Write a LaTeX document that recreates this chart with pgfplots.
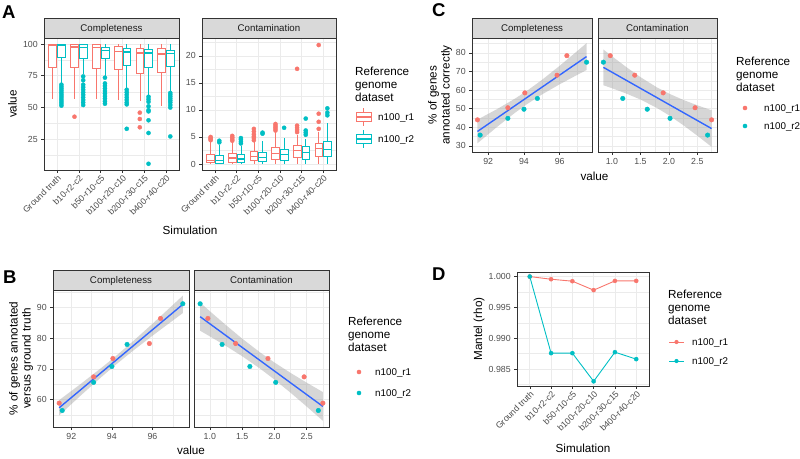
\documentclass[border=0pt]{standalone}
\usepackage{pgfplots}
\pgfplotsset{compat=1.18}
\usepgfplotslibrary{statistics}
\usepackage{fontspec}
\setmainfont{Liberation Sans}

\definecolor{ggred}{HTML}{F8766D}
\definecolor{ggcyan}{HTML}{00BFC4}
\definecolor{ggblue}{HTML}{3366FF}
\definecolor{grid92}{HTML}{EBEBEB}
\definecolor{grey20}{HTML}{333333}
\definecolor{grey30}{HTML}{4D4D4D}
\definecolor{grey10}{HTML}{1A1A1A}
\definecolor{stripgray}{HTML}{D9D9D9}
\definecolor{ribbon}{HTML}{999999}

\newcommand\tickfont{\fontsize{8.8}{10}\selectfont}
\newcommand\stripfont{\fontsize{9.7}{11}\selectfont}
\newcommand\titlefont{\fontsize{11.7}{13}\selectfont}
\newcommand\legfont{\fontsize{9.8}{11}\selectfont}
\newcommand\letterfont{\fontsize{18.5}{20}\selectfont\bfseries}

\pgfplotsset{
  gg/.style={
    scale only axis,
    anchor=north west,
    axis line style={grey20, line width=0.55pt},
    tick align=outside,
    tick pos=left,
    major tick length=2.75pt,
    minor tick length=0pt,
    tick style={grey20, line width=0.55pt},
    tick label style={font=\tickfont, text=grey30},
    /pgf/number format/assume math mode=true,
    grid style={grid92, line width=0.6pt},
    minor grid style={grid92, line width=0.3pt},
    xmajorgrids, ymajorgrids,
  },
  cats/.style={
    xmin=0.4, xmax=6.6,
    xtick={1,2,3,4,5,6},
    xticklabels={Ground truth,b10-r2-c2,b50-r10-c5,b100-r20-c10,b200-r30-c15,b400-r40-c20},
    xticklabel style={rotate=45, anchor=north east, inner sep=1pt},
  },
  bx/.style={
    boxplot/draw direction=y,
    line width=0.6pt,
    draw=#1,
    fill=white,
    mark=*,
    mark size=2.1pt,
    mark options={solid, fill=#1, draw=#1, line width=0.3pt},
    boxplot/box extend=0.36,
    boxplot/whisker extend=0,
    boxplot/every median/.style={line width=1.3pt},
  },
  noy/.style={yticklabels={}, ytick style={draw=none}},
}

\begin{document}
\begin{tikzpicture}
\useasboundingbox (0,0) rectangle (800pt,-458pt);

% ---------------- Panel A: completeness
\begin{axis}[gg, cats, name=acomp, at={(44pt,-38pt)}, width=135pt, height=132pt,
  ymin=0.9, ymax=104.7, ytick={25,50,75,100}, minor ytick={12.5,37.5,62.5,87.5}, yminorgrids]
\addplot[bx=ggred, boxplot prepared={draw position=0.8, lower whisker=56.7, lower quartile=81.9, median=99, upper quartile=100, upper whisker=100}] coordinates {};
\addplot[bx=ggcyan, boxplot prepared={draw position=1.2, lower whisker=69.5, lower quartile=89.5, median=99.2, upper quartile=100, upper whisker=100}]
  table[row sep=\\, y index=0] {v\\ 68\\ 66.5\\ 65\\ 63.5\\ 62\\ 60.5\\ 59\\ 57.5\\ 56\\ 54.5\\ 53\\ 51.5\\};
\addplot[bx=ggred, boxplot prepared={draw position=1.8, lower whisker=56.7, lower quartile=81.4, median=97.6, upper quartile=99.5, upper whisker=100}]
  table[row sep=\\, y index=0] {v\\ 42.8\\};
\addplot[bx=ggcyan, boxplot prepared={draw position=2.2, lower whisker=76, lower quartile=88.5, median=97.1, upper quartile=99.5, upper whisker=100}]
  table[row sep=\\, y index=0] {v\\ 74.5\\ 71.5\\ 68\\ 66\\ 64\\ 62\\ 60\\ 58\\ 56\\ 54\\ 52\\};
\addplot[bx=ggred, boxplot prepared={draw position=2.8, lower whisker=56.7, lower quartile=81, median=97.4, upper quartile=99.5, upper whisker=100}] coordinates {};
\addplot[bx=ggcyan, boxplot prepared={draw position=3.2, lower whisker=74.5, lower quartile=88.5, median=95, upper quartile=97.6, upper whisker=100}]
  table[row sep=\\, y index=0] {v\\ 73.5\\ 69\\ 67\\ 65\\ 63\\ 61\\ 59\\ 57\\ 55\\ 53\\};
\addplot[bx=ggred, boxplot prepared={draw position=3.8, lower whisker=56.2, lower quartile=80.3, median=94.2, upper quartile=98.2, upper whisker=100}] coordinates {};
\addplot[bx=ggcyan, boxplot prepared={draw position=4.2, lower whisker=65.4, lower quartile=83.2, median=93.7, upper quartile=96.9, upper whisker=100}]
  table[row sep=\\, y index=0] {v\\ 64\\ 62\\ 60\\ 58\\ 56\\ 54\\ 52.5\\ 33.3\\};
\addplot[bx=ggred, boxplot prepared={draw position=4.8, lower whisker=54.9, lower quartile=77.2, median=92.9, upper quartile=96.9, upper whisker=100}]
  table[row sep=\\, y index=0] {v\\ 46\\ 41\\ 34.5\\};
\addplot[bx=ggcyan, boxplot prepared={draw position=5.2, lower whisker=60.1, lower quartile=81.9, median=92.9, upper quartile=95.5, upper whisker=100}]
  table[row sep=\\, y index=0] {v\\ 58.5\\ 56.5\\ 54.5\\ 51\\ 48\\ 47\\ 40\\ 30\\ 5.8\\};
\addplot[bx=ggred, boxplot prepared={draw position=5.8, lower whisker=50.9, lower quartile=77.7, median=92.1, upper quartile=96.9, upper whisker=100}] coordinates {};
\addplot[bx=ggcyan, boxplot prepared={draw position=6.2, lower whisker=63.3, lower quartile=82.4, median=92.4, upper quartile=94.8, upper whisker=100}]
  table[row sep=\\, y index=0] {v\\ 61.5\\ 60\\ 58.5\\ 57\\ 55.5\\ 54\\ 52\\ 50\\ 27.3\\};
\end{axis}

% ---------------- Panel A: contamination
\begin{axis}[gg, cats, name=acont, at={(202pt,-38pt)}, width=134pt, height=132pt,
  ymin=-1.11, ymax=23.3, ytick={0,5,10,15,20}, minor ytick={2.5,7.5,12.5,17.5,22.5}, yminorgrids]
\addplot[bx=ggred, boxplot prepared={draw position=0.8, lower whisker=0, lower quartile=0.3, median=0.7, upper quartile=1.8, upper whisker=4.2}]
  table[row sep=\\, y index=0] {v\\ 4.4\\ 4.6\\ 4.8\\ 5.0\\};
\addplot[bx=ggcyan, boxplot prepared={draw position=1.2, lower whisker=0, lower quartile=0.2, median=0.7, upper quartile=1.6, upper whisker=3.5}]
  table[row sep=\\, y index=0] {v\\ 4.0\\ 4.3\\};
\addplot[bx=ggred, boxplot prepared={draw position=1.8, lower whisker=0, lower quartile=0.4, median=1.1, upper quartile=2.0, upper whisker=4.0}]
  table[row sep=\\, y index=0] {v\\ 4.3\\ 4.6\\ 4.9\\ 5.2\\};
\addplot[bx=ggcyan, boxplot prepared={draw position=2.2, lower whisker=0, lower quartile=0.35, median=0.95, upper quartile=1.75, upper whisker=3.4}]
  table[row sep=\\, y index=0] {v\\ 3.8\\ 4.1\\ 4.5\\ 4.8\\};
\addplot[bx=ggred, boxplot prepared={draw position=2.8, lower whisker=0, lower quartile=0.6, median=1.45, upper quartile=2.3, upper whisker=4.1}]
  table[row sep=\\, y index=0] {v\\ 4.4\\ 4.8\\ 5.1\\ 5.5\\ 6.0\\ 6.5\\};
\addplot[bx=ggcyan, boxplot prepared={draw position=3.2, lower whisker=0, lower quartile=0.45, median=1.2, upper quartile=2.1, upper whisker=4.2}]
  table[row sep=\\, y index=0] {v\\ 5.6\\ 5.8\\};
\addplot[bx=ggred, boxplot prepared={draw position=3.8, lower whisker=0, lower quartile=0.9, median=2.0, upper quartile=3.1, upper whisker=5.9}]
  table[row sep=\\, y index=0] {v\\ 6.2\\ 6.5\\ 6.8\\ 7.1\\ 7.4\\};
\addplot[bx=ggcyan, boxplot prepared={draw position=4.2, lower whisker=0, lower quartile=0.7, median=1.75, upper quartile=2.75, upper whisker=4.9}]
  table[row sep=\\, y index=0] {v\\ 6.7\\};
\addplot[bx=ggred, boxplot prepared={draw position=4.8, lower whisker=0, lower quartile=1.2, median=2.45, upper quartile=3.5, upper whisker=5.3}]
  table[row sep=\\, y index=0] {v\\ 5.9\\ 6.3\\ 6.7\\ 7.1\\ 17.6\\};
\addplot[bx=ggcyan, boxplot prepared={draw position=5.2, lower whisker=0, lower quartile=0.9, median=2.1, upper quartile=3.2, upper whisker=4.7}]
  table[row sep=\\, y index=0] {v\\ 5.4\\ 5.8\\ 6.2\\ 8.4\\};
\addplot[bx=ggred, boxplot prepared={draw position=5.8, lower whisker=0, lower quartile=1.45, median=2.9, upper quartile=3.75, upper whisker=5.9}]
  table[row sep=\\, y index=0] {v\\ 6.5\\ 7.8\\ 9.3\\ 22.0\\};
\addplot[bx=ggcyan, boxplot prepared={draw position=6.2, lower whisker=0, lower quartile=1.5, median=2.7, upper quartile=4.25, upper whisker=7.5}]
  table[row sep=\\, y index=0] {v\\ 9.0\\ 9.5\\ 10.3\\};
\end{axis}

% ---------------- Panel C: completeness
\begin{axis}[gg, name=ccomp, at={(472pt,-38pt)}, width=120pt, height=114pt,
  xmin=91.095, xmax=97.805, ymin=26.7, ymax=88.0,
  xtick={92,94,96}, minor xtick={91,93,95,97}, xminorgrids,
  ytick={30,40,50,60,70,80}, minor ytick={35,45,55,65,75,85}, yminorgrids]
\addplot[draw=none, fill=ribbon, fill opacity=0.4] coordinates {
  (91.4,31.40) (92.5,40.23) (93.5,47.80) (94.17,52.44) (95,57.59) (96,63.13) (97,68.27) (97.5,70.77)
  (97.5,85.25) (97,81.15) (96,73.09) (95,65.43) (94.17,59.62) (93.5,55.42) (92.5,49.79) (91.4,44.10)} -- cycle;
\addplot[ggblue, line width=1.4pt] coordinates {(91.4,37.75) (97.5,78.01)};
\addplot[only marks, mark=*, mark size=2.3pt, color=ggred] coordinates {(91.4,44) (93.1,50.5) (94.05,58.5) (95.85,68) (96.4,78.5)};
\addplot[only marks, mark=*, mark size=2.3pt, color=ggcyan] coordinates {(91.55,35.8) (93.1,44.8) (94.0,49.7) (94.75,55.5) (97.5,75)};
\end{axis}

% ---------------- Panel C: contamination
\begin{axis}[gg, noy, name=ccont, at={(598pt,-38pt)}, width=119pt, height=114pt,
  xmin=0.755, xmax=2.845, ymin=26.7, ymax=88.0,
  xtick={1,1.5,2,2.5}, minor xtick={0.75,1.25,1.75,2.25,2.75}, xminorgrids,
  xticklabel style={/pgf/number format/.cd, fixed, precision=1, zerofill},
  ytick={30,40,50,60,70,80}, minor ytick={35,45,55,65,75,85}, yminorgrids]
\addplot[draw=none, fill=ribbon, fill opacity=0.4] coordinates {
  (0.85,62.60) (1.0,61.00) (1.25,58.15) (1.5,54.92) (1.784,50.50) (2.0,46.46) (2.25,41.18) (2.5,35.45) (2.75,29.46)
  (2.75,49.14) (2.5,51.81) (2.25,54.74) (2.0,58.12) (1.784,61.56) (1.5,66.98) (1.25,72.41) (1.0,78.22) (0.85,81.82)} -- cycle;
\addplot[ggblue, line width=1.4pt] coordinates {(0.85,72.21) (2.75,39.30)};
\addplot[only marks, mark=*, mark size=2.3pt, color=ggred] coordinates {(2.75,44) (2.46,50.5) (1.9,58.5) (1.4,68) (0.97,78.5)};
\addplot[only marks, mark=*, mark size=2.3pt, color=ggcyan] coordinates {(2.68,35.8) (2.02,44.8) (1.62,49.7) (1.19,55.5) (0.85,75)};
\end{axis}

% ---------------- Panel B: completeness
\begin{axis}[gg, name=bcomp, at={(53pt,-290pt)}, width=136pt, height=137pt,
  xmin=91.095, xmax=97.805, ymin=51.0, ymax=95.8,
  xtick={92,94,96}, minor xtick={91,93,95,97}, xminorgrids,
  ytick={60,70,80,90}, minor ytick={55,65,75,85,95}, yminorgrids]
\addplot[draw=none, fill=ribbon, fill opacity=0.4] coordinates {
  (91.4,54.80) (92.5,61.52) (93.5,67.44) (94.17,71.24) (95,75.71) (96,80.83) (97,85.79) (97.5,88.25)
  (97.5,93.95) (97,90.87) (96,84.75) (95,78.79) (94.17,74.06) (93.5,70.44) (92.5,65.28) (91.4,59.80)} -- cycle;
\addplot[ggblue, line width=1.4pt] coordinates {(91.4,57.30) (97.5,91.10)};
\addplot[only marks, mark=*, mark size=2.3pt, color=ggred] coordinates {(91.4,58.8) (93.1,67.4) (94.05,73.4) (95.85,78.3) (96.4,86.5)};
\addplot[only marks, mark=*, mark size=2.3pt, color=ggcyan] coordinates {(91.55,56.4) (93.1,65.6) (94.0,70.8) (94.75,78.0) (97.5,91.3)};
\end{axis}

% ---------------- Panel B: contamination
\begin{axis}[gg, noy, name=bcont, at={(194pt,-290pt)}, width=135pt, height=137pt,
  xmin=0.755, xmax=2.845, ymin=51.0, ymax=95.8,
  xtick={1,1.5,2,2.5}, minor xtick={0.75,1.25,1.75,2.25,2.75}, xminorgrids,
  xticklabel style={/pgf/number format/.cd, fixed, precision=1, zerofill},
  ytick={60,70,80,90}, minor ytick={55,65,75,85,95}, yminorgrids]
\addplot[draw=none, fill=ribbon, fill opacity=0.4] coordinates {
  (0.85,82.48) (1.0,80.64) (1.25,77.49) (1.5,74.16) (1.784,70.00) (2.0,66.52) (2.25,62.21) (2.5,57.68) (2.75,53.03)
  (2.75,62.43) (2.5,65.50) (2.25,68.69) (2.0,72.10) (1.784,75.30) (1.5,79.92) (1.25,84.31) (1.0,88.88) (0.85,91.68)} -- cycle;
\addplot[ggblue, line width=1.4pt] coordinates {(0.85,87.08) (2.75,57.73)};
\addplot[only marks, mark=*, mark size=2.3pt, color=ggred] coordinates {(2.75,58.8) (2.46,67.4) (1.9,73.4) (1.4,78.3) (0.97,86.5)};
\addplot[only marks, mark=*, mark size=2.3pt, color=ggcyan] coordinates {(2.68,56.4) (2.02,65.6) (1.62,70.8) (1.19,78.0) (0.85,91.3)};
\end{axis}

% ---------------- Panel D
\begin{axis}[gg, cats, name=dax, at={(517pt,-272pt)}, width=132pt, height=114pt,
  ymin=0.98225, ymax=1.00074, scaled y ticks=false,
  ytick={0.985,0.99,0.995,1.0}, minor ytick={0.9825,0.9875,0.9925,0.9975}, yminorgrids,
  yticklabel style={/pgf/number format/.cd, fixed, precision=3, zerofill}]
\addplot[ggred, line width=0.9pt, mark=*, mark size=2.1pt, mark options={fill=ggred, line width=0.3pt}] coordinates {
  (1,1.0) (2,0.99957) (3,0.99925) (4,0.9978) (5,0.9993) (6,0.9993)};
\addplot[ggcyan, line width=0.9pt, mark=*, mark size=2.1pt, mark options={fill=ggcyan, line width=0.3pt}] coordinates {
  (1,1.0) (2,0.98758) (3,0.98758) (4,0.98301) (5,0.98774) (6,0.98661)};
\end{axis}

% ---------------- facet strips
\foreach \ax/\lab in {acomp/Completeness, acont/Contamination, ccomp/Completeness, ccont/Contamination, bcomp/Completeness, bcont/Contamination}{
  \draw[grey20, line width=0.55pt, fill=stripgray] (\ax.north west) rectangle ([yshift=20pt]\ax.north east);
  \node[anchor=base, font=\stripfont, text=grey10, inner sep=0pt] at ([yshift=6.8pt]\ax.north) {\lab};
}

% ---------------- panel letters
\node[anchor=base west, inner sep=0pt, font=\letterfont] at (2pt,-18.5pt) {A};
\node[anchor=base west, inner sep=0pt, font=\letterfont] at (432pt,-16.7pt) {C};
\node[anchor=base west, inner sep=0pt, font=\letterfont] at (3pt,-283.3pt) {B};
\node[anchor=base west, inner sep=0pt, font=\letterfont] at (432pt,-280.7pt) {D};

% ---------------- axis titles
\node[rotate=90, anchor=base, inner sep=0pt, font=\titlefont] at (16.7pt,-104pt) {value};
\node[anchor=base, inner sep=0pt, font=\titlefont] at (190pt,-234pt) {Simulation};
\node[rotate=90, align=center, inner sep=0pt, font=\titlefont] at (440pt,-95pt) {\% of genes\\annotated correctly};
\node[anchor=base, inner sep=0pt, font=\titlefont] at (594.5pt,-180pt) {value};
\node[rotate=90, align=center, inner sep=0pt, font=\titlefont] at (21pt,-358.5pt) {\% of genes annotated\\versus ground truth};
\node[anchor=base, inner sep=0pt, font=\titlefont] at (191pt,-454pt) {value};
\node[rotate=90, anchor=base, inner sep=0pt, font=\titlefont] at (482pt,-329pt) {Mantel (rho)};
\node[anchor=base, inner sep=0pt, font=\titlefont] at (583pt,-452pt) {Simulation};

% ---------------- legends
\foreach \x/\y in {355/75, 736/65, 348/325, 668/298.3}{
  \node[anchor=base west, inner sep=0pt, font=\titlefont] at (\x pt,-\y pt) {Reference};
  \node[anchor=base west, inner sep=0pt, font=\titlefont] at (\x pt,-\y pt-13pt) {genome};
  \node[anchor=base west, inner sep=0pt, font=\titlefont] at (\x pt,-\y pt-26pt) {dataset};
}
% A: boxplot keys
\foreach \c/\y/\lab in {ggred/117/n100\_r1, ggcyan/139/n100\_r2}{
  \draw[\c, line width=0.6pt] (363.5pt,-\y pt+9pt) -- (363.5pt,-\y pt-9pt);
  \draw[\c, line width=0.6pt, fill=white] (356pt,-\y pt+4.5pt) rectangle (371pt,-\y pt-4.5pt);
  \draw[\c, line width=1.3pt] (356pt,-\y pt) -- (371pt,-\y pt);
  \node[anchor=base west, inner sep=0pt, font=\legfont] at (378pt,-\y pt-3.5pt) {\lab};
}
% C and B: point keys
\foreach \kx/\lx/\ya/\yb in {745/764/108/126, 359/375/372/393}{
  \fill[ggred] (\kx pt,-\ya pt) circle (2.3pt);
  \fill[ggcyan] (\kx pt,-\yb pt) circle (2.3pt);
  \node[anchor=base west, inner sep=0pt, font=\legfont] at (\lx pt,-\ya pt-3.5pt) {n100\_r1};
  \node[anchor=base west, inner sep=0pt, font=\legfont] at (\lx pt,-\yb pt-3.5pt) {n100\_r2};
}
% D: line keys
\foreach \c/\y/\lab in {ggred/342/n100\_r1, ggcyan/361/n100\_r2}{
  \draw[\c, line width=0.9pt] (669pt,-\y pt) -- (684pt,-\y pt);
  \fill[\c] (676.5pt,-\y pt) circle (2.1pt);
  \node[anchor=base west, inner sep=0pt, font=\legfont] at (692pt,-\y pt-3.5pt) {\lab};
}
\end{tikzpicture}
\end{document}
